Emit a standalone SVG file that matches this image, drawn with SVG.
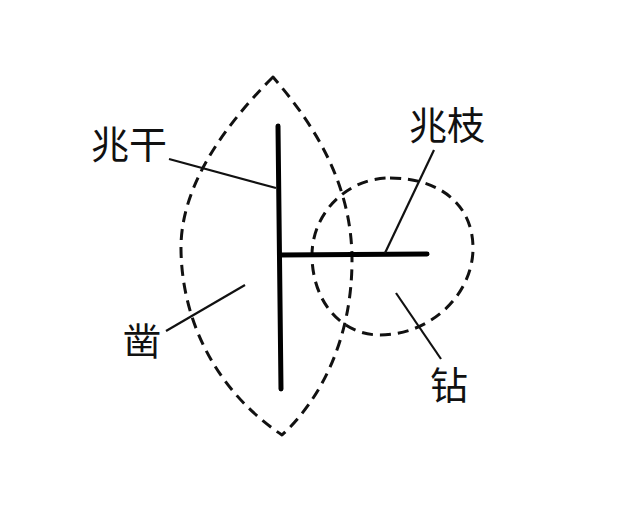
<svg xmlns="http://www.w3.org/2000/svg" width="630" height="524" viewBox="0 0 630 524">
<style>
.dash{fill:none;stroke:#111;stroke-width:3;stroke-dasharray:11 7;stroke-linejoin:round}
.thick{fill:none;stroke:#000;stroke-width:5;stroke-linecap:round}
.lead{fill:none;stroke:#111;stroke-width:2.2}
.lbl{font-family:"Noto Sans CJK SC","Noto Sans CJK JP",sans-serif;font-size:38px;fill:#111}
</style>
<rect width="630" height="524" fill="#fff"/>
<g id="zao">
<path class="dash" d="M273,77 C220,130 180,190 181,250 C182,320 215,390 282,435 C320,400 352,340 352,260 C352,180 310,120 273,77 Z"/>
</g>
<g id="zuan">
<path class="dash" d="M390,178 C440,178 473,205 473,248 C473,295 430,335 380,335 C340,335 312,300 312,255 C312,215 345,178 390,178 Z"/>
</g>
<g id="zhaogan">
<path class="thick" d="M278,126 L281,389"/>
</g>
<g id="zhaozhi">
<path class="thick" d="M280,255 L427,254"/>
</g>
<g id="connectors">
<path class="lead" d="M169,159 L276,188"/>
<path class="lead" d="M434,150 L385,253"/>
<path class="lead" d="M396,293 L441,359"/>
<path class="lead" d="M166,331 L245,285"/>
</g>
<g id="labels">
<text class="lbl" x="91" y="158">兆干</text>
<text class="lbl" x="409" y="139">兆枝</text>
<text class="lbl" x="430" y="399">钻</text>
<text class="lbl" x="123" y="355">凿</text>
</g>
</svg>
